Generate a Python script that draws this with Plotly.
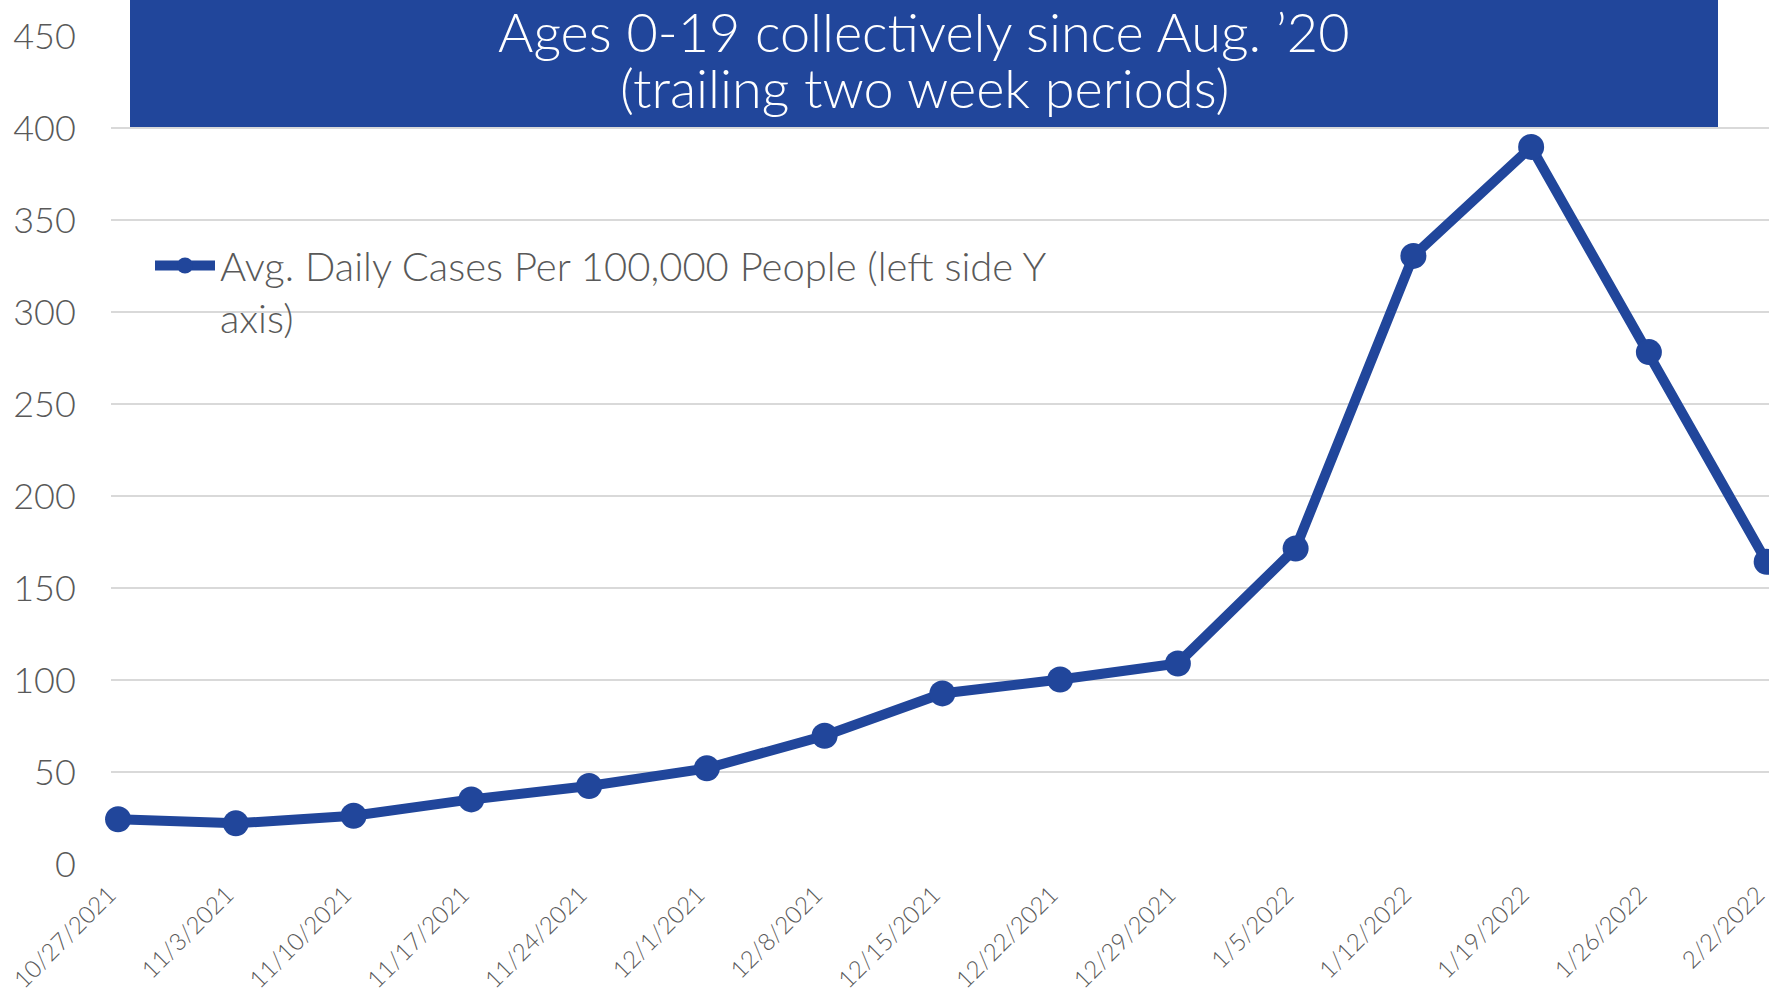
import plotly.graph_objects as go

# ---- data ----
dates = ["10/27/2021", "11/3/2021", "11/10/2021", "11/17/2021", "11/24/2021",
         "12/1/2021", "12/8/2021", "12/15/2021", "12/22/2021", "12/29/2021",
         "1/5/2022", "1/12/2022", "1/19/2022", "1/26/2022", "2/2/2022"]
cases = [24.3, 22.1, 26.2, 35.1, 42.4, 52.0, 69.7, 92.7, 100.3, 109.0,
         171.5, 330.5, 389.7, 278.2, 164.2]
series_name = "Avg. Daily Cases Per 100,000 People (left side Y<br>axis)"
title_line1 = "Ages 0-19 collectively since Aug. \u201920"
title_line2 = "(trailing two week periods)"
y_ticks = [0, 50, 100, 150, 200, 250, 300, 350, 400, 450]

BLUE = "#21469b"
GRAY = "#595959"
GRID = "#d9d9d9"
FONT = "Lato"

W, H = 1769, 997
L, R, T, B = 111, 0, 36, 133
pw = W - L - R
ph = H - T - B

def px_x(x):
    return (x - L) / pw

def px_y(y):
    return (H - B - y) / ph

fig = go.Figure()
fig.add_trace(go.Scatter(
    x=dates, y=cases, mode="lines+markers", name=series_name,
    line=dict(color=BLUE, width=10),
    marker=dict(color=BLUE, size=26),
    cliponaxis=False,
))

fig.update_layout(
    width=W, height=H,
    margin=dict(l=L, r=R, t=T, b=B, pad=0, autoexpand=False),
    paper_bgcolor="white", plot_bgcolor="white",
    font=dict(family=FONT, color=GRAY),
    showlegend=True,
    legend=dict(
        x=px_x(150), y=px_y(233), xanchor="left", yanchor="top",
        font=dict(family=FONT, size=40, color=GRAY, weight=300),
        bgcolor="rgba(0,0,0,0)", itemwidth=60, valign="top",
        tracegroupgap=0,
    ),
    xaxis=dict(
        type="category", range=[-0.06, 14.02], automargin=False,
        tickangle=-45, tickfont=dict(family=FONT, size=24, color=GRAY, weight=300),
        showgrid=False, zeroline=False, showline=False,
        ticks="outside", ticklen=6, tickcolor="rgba(0,0,0,0)",
        ticklabelshift=-9,
        fixedrange=True,
    ),
    yaxis=dict(
        range=[0, 450], tickvals=y_ticks, automargin=False,
        tickfont=dict(family=FONT, size=36, color=GRAY, weight=300),
        showgrid=True, gridcolor=GRID, gridwidth=1.5,
        zeroline=False, showline=False,
        ticks="outside", ticklen=27, tickcolor="rgba(0,0,0,0)",
    ),
)

# title banner
fig.add_shape(type="rect", xref="paper", yref="paper",
              x0=px_x(130), x1=px_x(1718), y0=px_y(127), y1=px_y(-2),
              fillcolor=BLUE, line=dict(width=0), layer="above")
fig.add_annotation(xref="paper", yref="paper", x=px_x(924), y=px_y(32),
                   text=title_line1, showarrow=False, xanchor="center", yanchor="middle",
                   font=dict(family=FONT, size=54, color="white", weight=300))
fig.add_annotation(xref="paper", yref="paper", x=px_x(924), y=px_y(88),
                   text=title_line2, showarrow=False, xanchor="center", yanchor="middle",
                   font=dict(family=FONT, size=54, color="white", weight=300))

fig.write_html("out.html", config={"displayModeBar": False},
               post_script="document.body.style.margin='0px';document.body.style.overflow='hidden';")
